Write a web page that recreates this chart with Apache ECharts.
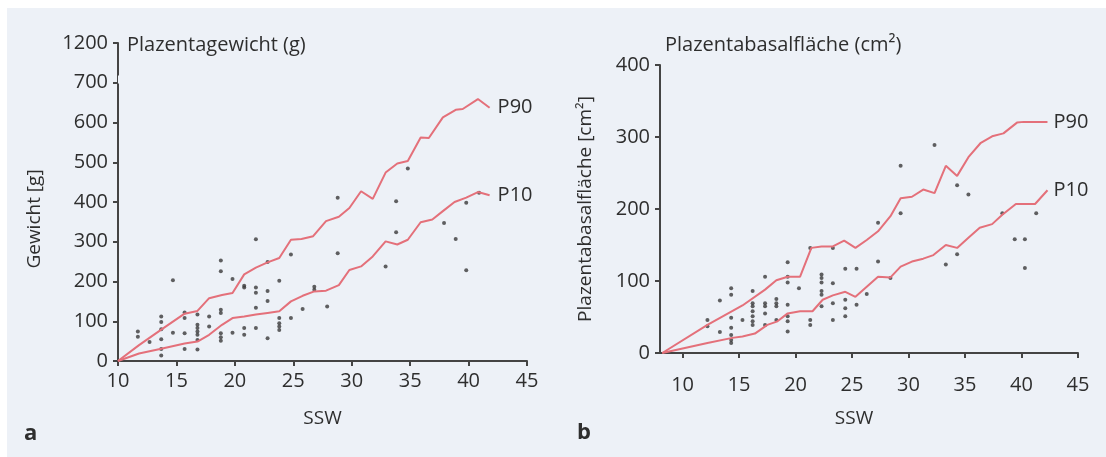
<!DOCTYPE html>
<html>
<head>
<meta charset="utf-8">
<script src="https://cdn.jsdelivr.net/npm/echarts@6/dist/echarts.min.js"></script>
<style>html,body{margin:0;padding:0;background:#fff;}#c{width:1106px;height:457px;}</style>
</head>
<body>
<div id="c"></div>
<script>
// ---- Panel a: Plazentagewicht ----
const xTicksA = [10, 15, 20, 25, 30, 35, 40, 45];
const yTicksA = [0, 100, 200, 300, 400, 500, 600, 700, 1200];
const p90A = [[10,0],[11.8,40],[13.7,79],[15.7,119],[16.8,126],[17.8,158],[18.9,166],[19.8,171],[20.8,218],[21.8,235],[22.8,248],[23.8,259],[24.8,305],[25.7,307],[26.7,314],[27.8,352],[28.9,363],[29.8,385],[30.8,427],[31.8,408],[32.9,474],[33.9,497],[34.8,503],[35.9,562],[36.6,561],[37.8,613],[38.9,632],[39.5,634],[40.8,659],[41.8,637]];
const p10A = [[10,0],[11.8,19],[13.7,31],[15.7,44],[16.8,49],[17.8,66],[18.9,91],[19.8,108],[20.8,112],[21.8,117],[22.8,121],[23.8,125],[24.8,150],[25.8,164],[26.8,175],[27.8,177],[28.9,191],[29.8,229],[30.8,238],[31.8,263],[32.9,301],[33.9,293],[34.8,305],[35.9,349],[36.9,356],[37.8,377],[38.8,400],[39.8,411],[40.8,425],[41.8,417]];
const dotsA = [[11.7,74],[11.7,61],[12.7,48],
  [13.7,112],[13.7,98],[13.7,80],[13.7,55],[13.7,30],[13.7,14],
  [14.7,203],[14.7,71],
  [15.7,122],[15.7,108],[15.7,70],[15.7,30],
  [16.8,117],[16.8,91],[16.8,83],[16.8,74],[16.8,66],[16.8,53],[16.8,29],
  [17.8,112],[17.8,87],
  [18.8,253],[18.8,226],[18.8,129],[18.8,121],[18.8,70],[18.8,60],[18.8,51],
  [19.8,206],[19.8,71],
  [20.8,189],[20.8,185],[20.8,83],[20.8,66],
  [21.8,306],[21.8,185],[21.8,172],[21.8,134],[21.8,83],
  [22.8,249],[22.8,176],[22.8,151],[22.8,57],
  [23.8,202],[23.8,108],[23.8,95],[23.8,87],[23.8,78],
  [24.8,268],[24.8,108],[25.8,131],[26.8,187],[26.8,179],[27.9,137],
  [28.8,411],[28.8,271],[32.9,238],[33.8,402],[33.8,324],[34.8,484],
  [37.9,347],[38.9,307],[39.8,398],[39.8,228],[40.9,423]];

// ---- Panel b: Plazentabasalfläche ----
const xTicksB = [10, 15, 20, 25, 30, 35, 40, 45];
const yTicksB = [0, 100, 200, 300, 400];
const p90B = [[8.2,0],[12.2,39],[15.3,66],[17.3,88],[18.3,101],[19.3,106],[20.4,106],[21.4,146],[22.3,148],[23.3,148],[24.3,156],[25.3,146],[26.3,157],[27.3,169],[28.4,190],[29.3,215],[30.3,217],[31.3,227],[32.3,222],[33.3,260],[34.3,246],[35.3,272],[36.4,292],[37.4,301],[38.4,305],[39.6,320],[40.2,321],[42.3,321]];
const p10B = [[8.2,0],[12.2,14],[14.4,21],[15.3,23],[16.4,27],[17.5,39],[18.4,44],[19.3,55],[20.4,58],[21.5,58],[22.4,74],[23.3,80],[24.4,85],[25.3,78],[26.3,92],[27.3,106],[28.4,105],[29.3,120],[30.3,127],[31.3,131],[32.2,136],[33.3,150],[34.3,146],[35.3,160],[36.3,174],[37.4,179],[38.3,192],[39.5,207],[41.2,207],[42.3,226]];
const dotsB = [[12.2,46],[12.2,37],[13.3,73],[13.3,29],
  [14.3,90],[14.3,81],[14.3,49],[14.3,35],[14.3,25],[14.3,18],[14.3,14],
  [15.3,46],
  [16.2,86],[16.2,69],[16.2,65],[16.2,58],[16.2,51],[16.2,44],[16.2,39],
  [17.3,106],[17.3,69],[17.3,65],[17.3,55],[17.3,39],
  [18.3,75],[18.3,69],[18.3,65],[18.3,46],
  [19.3,126],[19.3,106],[19.3,98],[19.3,67],[19.3,51],[19.3,44],[19.3,30],
  [20.3,90],[21.3,146],[21.3,46],[21.3,39],
  [22.3,109],[22.3,104],[22.3,98],[22.3,86],[22.3,81],[22.3,65],
  [23.3,146],[23.3,97],[23.3,69],[23.3,46],
  [24.4,117],[24.4,74],[24.4,62],[24.4,51],
  [25.4,117],[25.4,67],[26.3,82],[27.3,127],[27.3,181],[28.4,104],
  [29.3,260],[29.3,194],[32.3,289],[33.3,123],[34.3,233],[34.3,137],[35.3,220],
  [38.3,194],[39.4,158],[40.3,158],[40.3,118],[41.3,194]];

const BG = '#edf1f7';
const TXT = '#2e2e2e';
const AX = '#444';
const RED = '#e4707a';
const FONT = 'Open Sans';
const plain = v => String(v);

function axisCommon(extra) {
  return Object.assign({
    type: 'value',
    axisLine: {show: true, lineStyle: {color: AX, width: 2}},
    axisTick: {show: true, length: 5, lineStyle: {color: AX, width: 2}},
    axisLabel: {color: TXT, fontSize: 20, fontFamily: FONT},
    splitLine: {show: false},
    nameTextStyle: {color: TXT, fontSize: 19, fontFamily: FONT}
  }, extra);
}

const chart = echarts.init(document.getElementById('c'), null, {renderer: 'canvas'});
const option = {
  backgroundColor: BG,
  animation: false,
  textStyle: {fontFamily: FONT},
  title: [
    {text: 'Plazentagewicht (g)', left: 122, top: 30, textStyle: {color: TXT, fontSize: 20, fontWeight: 'normal', fontFamily: FONT}},
    {text: 'Plazentabasalfläche (cm²)', left: 660, top: 30, textStyle: {color: TXT, fontSize: 20, fontWeight: 'normal', fontFamily: FONT}},
    {text: 'a', left: 19, top: 418, textStyle: {color: TXT, fontSize: 22, fontWeight: 'bold', fontFamily: FONT}},
    {text: 'b', left: 572, top: 417, textStyle: {color: TXT, fontSize: 22, fontWeight: 'bold', fontFamily: FONT}}
  ],
  grid: [
    {left: 118, top: 43, width: 409, height: 318},
    {left: 660, top: 65, width: 418, height: 288}
  ],
  xAxis: [
    axisCommon({gridIndex: 0, min: 10, max: 45, interval: 5, name: 'SSW', nameLocation: 'middle', nameGap: 48,
      axisLabel: {color: TXT, fontSize: 20, fontFamily: FONT, margin: 10, customValues: xTicksA, formatter: plain},
      axisTick: {show: true, length: 5, lineStyle: {color: AX, width: 2}, customValues: xTicksA}}),
    axisCommon({gridIndex: 1, min: 8, max: 45, name: 'SSW', nameLocation: 'middle', nameGap: 56,
      nameTextStyle: {color: TXT, fontSize: 19, fontFamily: FONT, padding: [0, 30, 0, 0]},
      axisLabel: {color: TXT, fontSize: 20, fontFamily: FONT, margin: 22, customValues: xTicksB, formatter: plain},
      axisTick: {show: true, length: 5, lineStyle: {color: AX, width: 2}, customValues: xTicksB}})
  ],
  yAxis: [
    axisCommon({gridIndex: 0, min: 0, max: 1200, name: 'Gewicht [g]', nameLocation: 'middle', nameGap: 74,
      nameTextStyle: {color: TXT, fontSize: 19, fontFamily: FONT, padding: [0, 34, 0, 0]},
      breaks: [{start: 700, end: 1120, gap: 20}],
      breakArea: {show: true, zigzagAmplitude: 0, zigzagZ: 300, itemStyle: {color: BG, borderColor: BG, borderWidth: 0, opacity: 1}},
      axisLine: {show: true, breakLine: false, lineStyle: {color: AX, width: 2}},
      axisLabel: {color: TXT, fontSize: 20, fontFamily: FONT, margin: 10, customValues: yTicksA, formatter: plain},
      axisTick: {show: true, length: 5, lineStyle: {color: AX, width: 2}, customValues: yTicksA}}),
    axisCommon({gridIndex: 1, min: 0, max: 400, interval: 100, name: 'Plazentabasalfläche [cm²]', nameLocation: 'middle', nameGap: 65,
      axisLabel: {color: TXT, fontSize: 20, fontFamily: FONT, margin: 10, customValues: yTicksB, formatter: plain},
      axisTick: {show: true, length: 5, lineStyle: {color: AX, width: 2}, customValues: yTicksB}})
  ],
  series: [
    {type: 'scatter', xAxisIndex: 0, yAxisIndex: 0, data: dotsA, symbolSize: 4, itemStyle: {color: '#3a3a3a'}},
    {type: 'scatter', xAxisIndex: 1, yAxisIndex: 1, data: dotsB, symbolSize: 4, itemStyle: {color: '#3a3a3a'}},
    {type: 'line', xAxisIndex: 0, yAxisIndex: 0, data: p90A, showSymbol: false, lineStyle: {color: RED, width: 2},
      endLabel: {show: true, formatter: 'P90', color: TXT, fontSize: 20, fontFamily: FONT, distance: 8}},
    {type: 'line', xAxisIndex: 0, yAxisIndex: 0, data: p10A, showSymbol: false, lineStyle: {color: RED, width: 2},
      endLabel: {show: true, formatter: 'P10', color: TXT, fontSize: 20, fontFamily: FONT, distance: 8}},
    {type: 'line', xAxisIndex: 1, yAxisIndex: 1, data: p90B, showSymbol: false, lineStyle: {color: RED, width: 2},
      endLabel: {show: true, formatter: 'P90', color: TXT, fontSize: 20, fontFamily: FONT, distance: 6}},
    {type: 'line', xAxisIndex: 1, yAxisIndex: 1, data: p10B, showSymbol: false, lineStyle: {color: RED, width: 2},
      endLabel: {show: true, formatter: 'P10', color: TXT, fontSize: 20, fontFamily: FONT, distance: 6}}
  ],
  graphic: [
    {type: 'rect', left: 0, top: 0, shape: {width: 1106, height: 8}, style: {fill: '#fff'}, silent: true},
    {type: 'rect', left: 0, top: 0, shape: {width: 7, height: 457}, style: {fill: '#fff'}, silent: true}
  ]
};
chart.setOption(option);
</script>
</body>
</html>
